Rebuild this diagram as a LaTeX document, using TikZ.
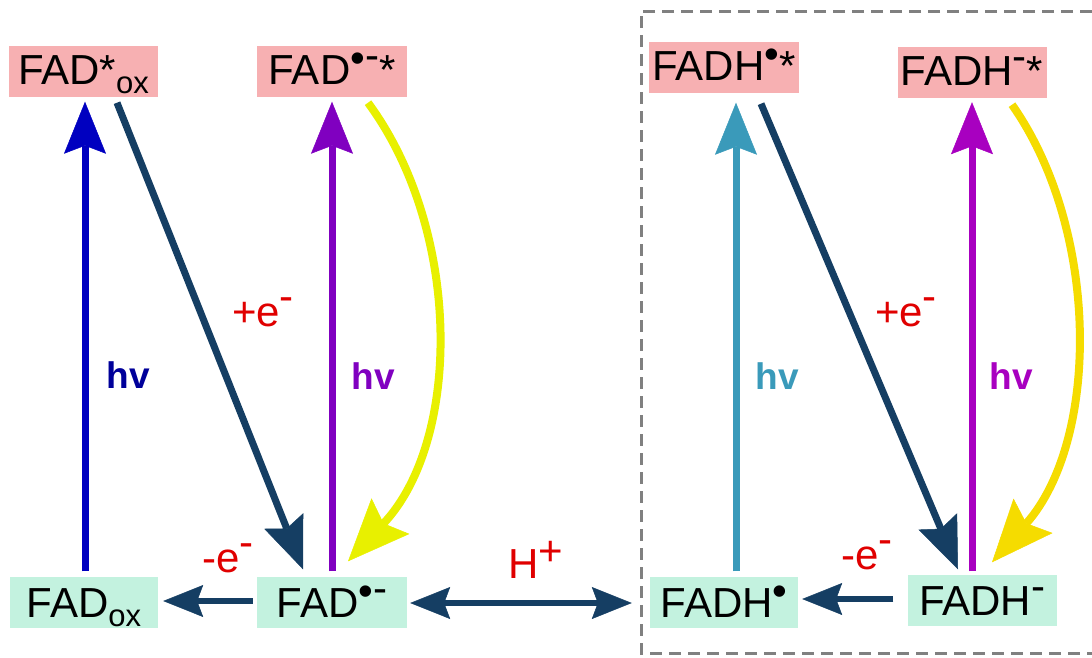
\documentclass[tikz,border=0pt]{standalone}
\usepackage{fontspec}
\setmainfont{Liberation Sans}
\usetikzlibrary{arrows.meta}
\definecolor{pinkbox}{HTML}{F7B0B2}
\definecolor{mintbox}{HTML}{C3F2DF}
\definecolor{navy}{HTML}{153E63}
\definecolor{hvblue}{HTML}{0000C0}
\definecolor{hvbluetxt}{HTML}{00009A}
\definecolor{hvpurple}{HTML}{8000C0}
\definecolor{hvlight}{HTML}{3A9ABA}
\definecolor{hvmagenta}{HTML}{A800C0}
\definecolor{yel}{HTML}{E8F000}
\definecolor{gold}{HTML}{F5DC00}
\definecolor{redlab}{HTML}{E00000}
\definecolor{framegray}{HTML}{808080}
\newcommand{\bul}{\raisebox{12pt}{•}}
\newcommand{\mn}{\raisebox{15pt}{-}}
\newcommand{\sbx}[1]{\raisebox{-9pt}{\fontsize{31}{31}\selectfont #1}}
\tikzset{
  statebox/.style={inner sep=0pt, text height=31pt, minimum height=51pt,
    font=\fontsize{42}{50}\selectfont},
  topbox/.style={statebox, fill=pinkbox, text depth=4pt},
  botbox/.style={statebox, fill=mintbox, text depth=0pt},
  straightarrow/.style={line width=7pt, -{Stealth[length=52pt,width=42pt,inset=8pt,line width=0.5pt]}},
  curvedarrow/.style={line width=8pt, -{Stealth[length=62pt,width=52pt,inset=10pt,line width=0.5pt]}},
  horizarrow/.style={line width=6.5pt, -{Stealth[length=40pt,width=32pt,inset=6pt,line width=0.5pt]}},
  dblarrow/.style={line width=6.5pt, {Stealth[length=40pt,width=32pt,inset=6pt,line width=0.5pt]}-{Stealth[length=40pt,width=32pt,inset=6pt,line width=0.5pt]}},
  redlbl/.style={inner sep=0pt, anchor=base, text=redlab, font=\fontsize{42}{50}\selectfont},
  hvlbl/.style={inner sep=0pt, anchor=base, font=\fontsize{37}{44}\selectfont\bfseries}
}
\begin{document}
\begin{tikzpicture}[x=1pt,y=-1pt]
\useasboundingbox (0,0) rectangle (1092,657);
% frame
\draw[framegray, line width=3pt, dash pattern=on 12pt off 7pt] (1092,11) -- (641,11) -- (641,653) -- (1092,653);
% top states
\node[topbox, minimum width=149pt] (FoxS) at (83.5,71) {FAD*\sbx{ox}};
\node[topbox, minimum width=150pt] (FradS) at (332,71) {FAD\bul\mn*};
\node[topbox, minimum width=150pt] (FHradS) at (724,67) {FADH\bul*};
\node[topbox, minimum width=149pt] (FHmS) at (972,72) {FADH\mn*};
% bottom states
\node[botbox, minimum width=148pt] (Fox) at (84,602) {FAD\sbx{ox}};
\node[botbox, minimum width=150pt] (Frad) at (332,602) {FAD\bul\mn};
\node[botbox, minimum width=148pt] (FHrad) at (724,602) {FADH\bul};
\node[botbox, minimum width=149pt] (FHm) at (982,600) {FADH\mn};
% left system
\draw[straightarrow, hvblue] ([xshift=1pt,yshift=5pt]Fox.north) -- ([xshift=1.5pt,yshift=-5pt]FoxS.south);
\draw[straightarrow, navy] ([xshift=33.5pt,yshift=-6pt]FoxS.south) -- ([xshift=-29pt,yshift=7pt]Frad.north);
\draw[straightarrow, hvpurple] ([yshift=5pt]Frad.north) -- ([yshift=-5pt]FradS.south);
\draw[curvedarrow, yel] ([xshift=36pt,yshift=-6pt]FradS.south) .. controls (462,230) and (462,440) .. ([xshift=16pt,yshift=15pt]Frad.north);
\draw[horizarrow, navy] ([xshift=-4pt,yshift=1pt]Frad.west) -- ([xshift=5pt,yshift=1pt]Fox.east);
\draw[dblarrow, navy] ([xshift=3pt,yshift=-1pt]Frad.east) -- ([xshift=-18pt,yshift=-1pt]FHrad.west);
% right system
\draw[straightarrow, hvlight] ([xshift=12pt,yshift=5pt]FHrad.north) -- ([xshift=12pt,yshift=-10pt]FHradS.south);
\draw[straightarrow, navy] ([xshift=37pt,yshift=-11pt]FHradS.south) -- ([xshift=-24pt,yshift=5pt]FHm.north);
\draw[straightarrow, hvmagenta] ([xshift=-10pt,yshift=3pt]FHm.north) -- ([yshift=-4.5pt]FHmS.south);
\draw[curvedarrow, gold] ([xshift=40pt,yshift=-7pt]FHmS.south) .. controls (1100,230) and (1100,440) .. ([xshift=10pt,yshift=12pt]FHm.north);
\draw[horizarrow, navy] ([xshift=-14pt,yshift=1pt]FHm.west) -- ([xshift=4pt,yshift=3pt]FHrad.east);
% labels
\node[hvlbl, text=hvbluetxt] (hv1) at (128,388) {hv};
\node[hvlbl, text=hvpurple] (hv2) at (373,389) {hv};
\node[hvlbl, text=hvlight] (hv3) at (777,389) {hv};
\node[hvlbl, text=hvmagenta] (hv4) at (1011,389) {hv};
\node[redlbl] (pe1) at (263,326) {+e\raisebox{16pt}{-}};
\node[redlbl] (pe2) at (906,326) {+e\raisebox{16pt}{-}};
\node[redlbl] (me1) at (228,572) {-e\raisebox{16pt}{-}};
\node[redlbl] (me2) at (867,569) {-e\raisebox{16pt}{-}};
\node[redlbl] (hp) at (536,578) {H\raisebox{13pt}{+}};
\end{tikzpicture}
\end{document}
